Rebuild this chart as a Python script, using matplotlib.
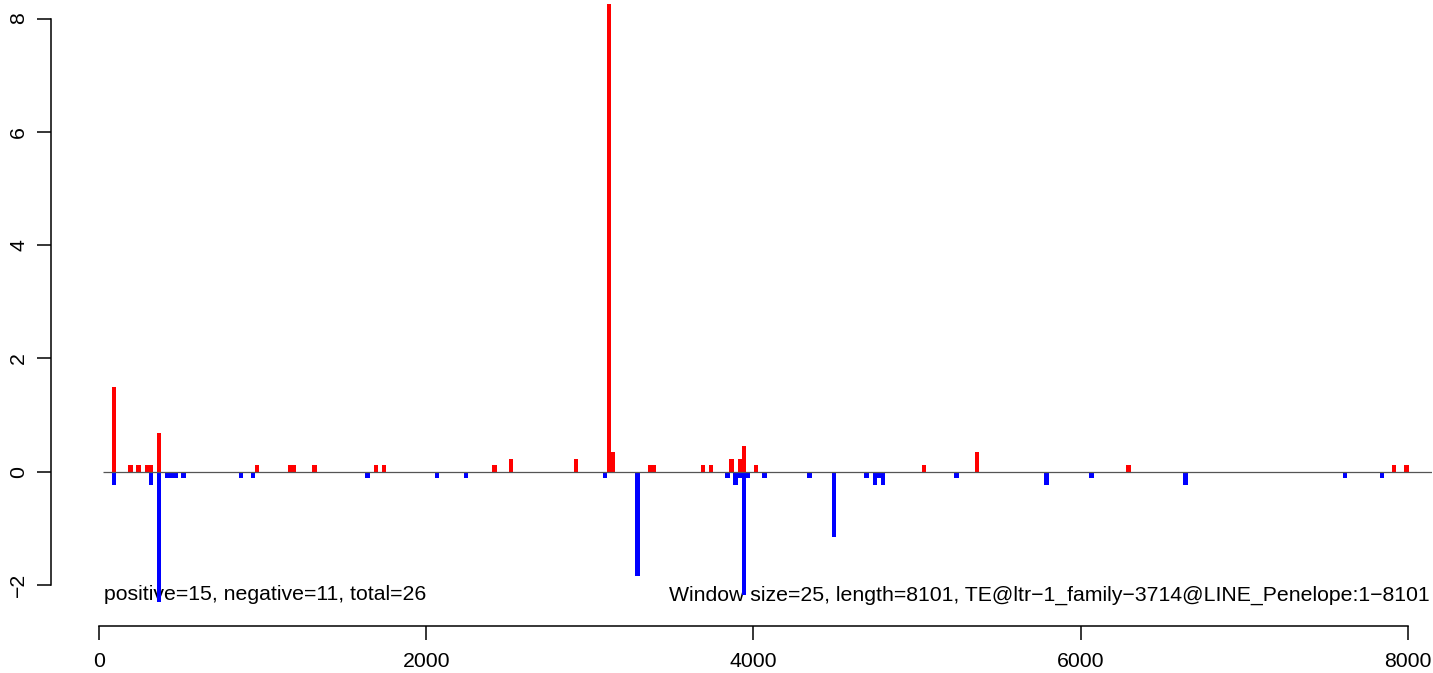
import matplotlib
matplotlib.use("Agg")
import matplotlib.pyplot as plt

plt.rcParams['font.family'] = ['Liberation Sans', 'DejaVu Sans']

# Positive (red) windows: position, value
pos_x = [92, 192, 242, 292, 317, 367, 967, 1167, 1192, 1317, 1692, 1742,
         2417, 2517, 2917, 3117, 3142, 3367, 3392, 3692, 3742, 3867, 3917,
         3942, 4017, 5042, 5367, 6292, 7917, 7992]
pos_y = [1.50, 0.11, 0.11, 0.11, 0.11, 0.68, 0.11, 0.11, 0.11, 0.11, 0.11, 0.11,
         0.11, 0.22, 0.22, 8.26, 0.34, 0.11, 0.11, 0.11, 0.11, 0.22, 0.22,
         0.45, 0.11, 0.11, 0.34, 0.11, 0.11, 0.11]

# Negative (blue) windows: position, value
neg_x = [92, 317, 367, 417, 442, 467, 517, 867, 942, 1642, 2067, 2242, 3092,
         3292, 3842, 3892, 3917, 3942, 3967, 4067, 4342, 4492, 4692, 4742,
         4767, 4792, 5242, 5792, 6067, 6642, 7617, 7842]
neg_y = [-0.235, -0.235, -2.30, -0.11, -0.11, -0.11, -0.11, -0.11, -0.11, -0.11,
         -0.11, -0.11, -0.11, -1.84, -0.11, -0.235, -0.11, -2.17, -0.11, -0.11,
         -0.11, -1.15, -0.11, -0.235, -0.11, -0.235, -0.11, -0.235, -0.11,
         -0.235, -0.11, -0.11]

x_ticks = [0, 2000, 4000, 6000, 8000]
y_ticks = [-2, 0, 2, 4, 6, 8]

left_label = "positive=15, negative=11, total=26"
right_label = "Window size=25, length=8101, TE@ltr\u22121_family\u22123714@LINE_Penelope:1\u22128101"

W, H = 1433, 673
fig = plt.figure(figsize=(W / 100, H / 100), dpi=100)
# axes region in pixels (x=0 at left edge)
L, R, T, B = 99, 1432, 0, 610
ax = fig.add_axes([L / W, 1 - B / H, (R - L) / W, (B - T) / H])

# data<->pixel calibration: x: 0->99px, 8000->1407.7px ; y: 0->471.7px, per unit 56.65px
sx = (1407.7 - 99) / 8000.0
sy = 56.65
xlim = (0.0, (R - 99) / sx)
ylim = ((471.7 - B) / sy, (471.7 - T) / sy)
x_line_start = (103 - 99) / sx

bw = 27
ax.bar(pos_x, pos_y, width=bw, color='#ff0000', linewidth=0, zorder=4)
ax.bar(neg_x, neg_y, width=bw, color='#0000ff', linewidth=0, zorder=4)
ax.hlines(0, x_line_start, xlim[1], color='#555555', linewidth=0.9, zorder=5)

fs = 15.3
ax.text((104 - 99) / sx, (471.7 - 600.5) / sy, left_label, fontsize=fs,
        ha='left', va='baseline', zorder=1)
ax.text((1430 - 99) / sx, (471.7 - 600.5) / sy, right_label, fontsize=fs,
        ha='right', va='baseline', zorder=1, clip_on=False)

for s in ['top', 'right']:
    ax.spines[s].set_visible(False)
ax.spines['left'].set_position(('outward', (L - 51) * 0.72))
ax.spines['bottom'].set_position(('outward', (626 - B) * 0.72))
ax.spines['left'].set_bounds(-2, 8)
ax.spines['bottom'].set_bounds(0, 8000)
for s in ['left', 'bottom']:
    ax.spines[s].set_linewidth(1.1)
    ax.spines[s].set_color('black')

ax.set_xticks(x_ticks)
ax.set_xticklabels([str(v) for v in x_ticks])
ax.set_yticks(y_ticks)
ax.set_yticklabels([("\u2212" + str(-v)) if v < 0 else str(v) for v in y_ticks])
ax.tick_params(axis='both', direction='out', length=9.9, width=1.1,
               labelsize=fs, colors='black')
ax.tick_params(axis='x', pad=9.0)
ax.tick_params(axis='y', pad=6.5)
for lab in ax.get_yticklabels():
    lab.set_rotation(90)
    lab.set_va('center')
    lab.set_ha('right')

ax.set_xlim(*xlim)
ax.set_ylim(*ylim)

ax.patch.set_alpha(0)
fig.savefig("out.png", dpi=100)
